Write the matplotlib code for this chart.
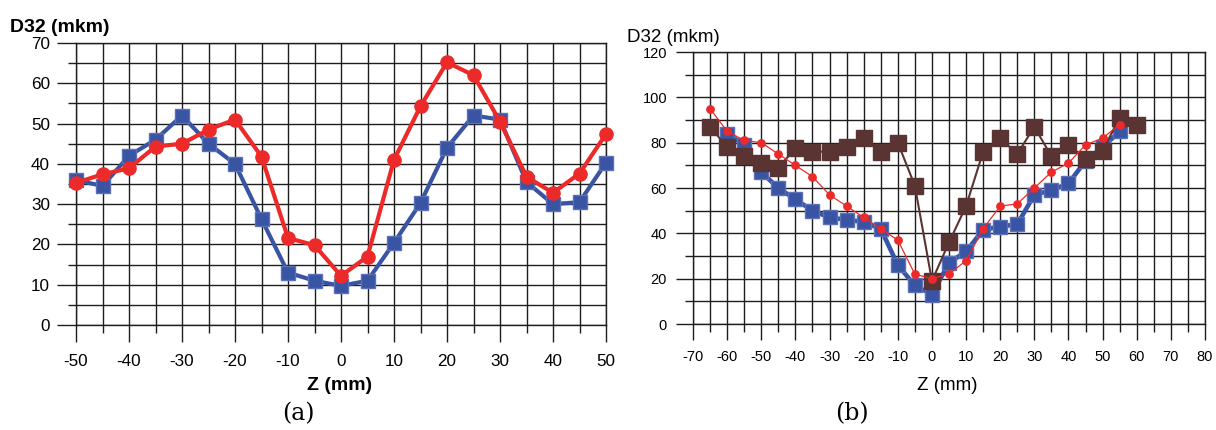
import matplotlib
matplotlib.use('Agg')
import matplotlib.pyplot as plt
from matplotlib.ticker import MultipleLocator

plt.rcParams['font.family'] = ['Liberation Sans', 'DejaVu Sans']
plt.rcParams['axes.unicode_minus'] = False  # plain hyphen like the original

# ---- data panel (a) ----
z_a = [-50, -45, -40, -35, -30, -25, -20, -15, -10, -5, 0,
       5, 10, 15, 20, 25, 30, 35, 40, 45, 50]
blue_a = [36, 34.5, 42, 46, 52, 45, 40, 26.3, 13, 11, 9.7,
          11, 20.4, 30.3, 44, 52, 51, 35.5, 30, 30.5, 40.3]
red_a = [35.3, 37.4, 38.9, 44.3, 45, 48.5, 51, 41.8, 21.6, 19.8, 12.2,
         17, 41, 54.3, 65.2, 62, 50.5, 36.8, 32.8, 37.6, 47.4]

# ---- data panel (b) ----
z_b_red = [-65, -60, -55, -50, -45, -40, -35, -30, -25, -20, -15, -10, -5,
           0, 5, 10, 15, 20, 25, 30, 35, 40, 45, 50, 55]
red_b = [95, 85, 81, 80, 75, 70, 65, 57, 52, 47, 42, 37, 22,
         20, 22, 28, 42, 52, 53, 60, 67, 71, 79, 82, 88]
z_b_blue = [-60, -55, -50, -45, -40, -35, -30, -25, -20, -15, -10, -5,
            0, 5, 10, 15, 20, 25, 30, 35, 40, 45, 50, 55]
blue_b = [84, 79, 67, 60, 55, 50, 47, 46, 45, 42, 26, 17,
          13, 27, 32, 41.5, 43, 44, 57, 59, 62, 72, 78, 85]
z_b_brown = [-65, -60, -55, -50, -45, -40, -35, -30, -25, -20, -15, -10, -5,
             0, 5, 10, 15, 20, 25, 30, 35, 40, 45, 50, 55, 60]
brown_b = [87, 78, 74, 71, 69, 77.5, 76, 76, 78, 82, 76, 80, 61,
           19, 36, 52, 76, 82, 75, 87, 74, 79, 73, 76.5, 91, 88]

BLUE = '#3a54a4'
RED = '#ec2a2a'
BROWN = '#5a3432'
GRID = '#1e1e1e'

W, H = 1216, 430


def setup_axes(ax, xlim, ylim, xmaj, ymaj, xmin, ymin, fs, xlen, ylen, xpad, ypad):
    """grid like the excel chart: ticks are just the grid lines going out"""
    ax.set_xlim(*xlim)
    ax.set_ylim(*ylim)
    ax.xaxis.set_major_locator(MultipleLocator(xmaj))
    ax.xaxis.set_minor_locator(MultipleLocator(xmin))
    ax.yaxis.set_major_locator(MultipleLocator(ymaj))
    ax.yaxis.set_minor_locator(MultipleLocator(ymin))
    ax.grid(True, which='both', color=GRID, lw=1.0)
    ax.set_axisbelow(True)
    for s in ax.spines.values():
        s.set_color(GRID)
        s.set_linewidth(1.0)
    ax.tick_params(axis='x', which='major', direction='out', length=xlen[0],
                   width=1.0, color=GRID, labelsize=fs, pad=xpad)
    ax.tick_params(axis='x', which='minor', direction='out', length=xlen[1],
                   width=1.0, color=GRID)
    ax.tick_params(axis='y', which='major', direction='out', length=ylen[0],
                   width=1.0, color=GRID, labelsize=fs, pad=ypad)
    ax.tick_params(axis='y', which='minor', direction='out', length=ylen[1],
                   width=1.0, color=GRID)


fig = plt.figure(figsize=(W / 100, H / 100), dpi=100)

# panel (a)
ax1 = fig.add_axes([76 / W, 1 - 325 / H, (606 - 76) / W, (325 - 43) / H])
setup_axes(ax1, (-50, 50), (0, 70), 10, 10, 5, 5, 12.3,
           (12.2, 5.8), (13.7, 5.8), 9, 5)
ax1.plot(z_a, blue_a, '-s', color=BLUE, lw=3, ms=10, mec='#5a70b8',
         clip_on=False, zorder=3)
ax1.plot(z_a, red_a, '-o', color=RED, lw=3, ms=9.5, clip_on=False, zorder=4)

fig.text(10 / W, 1 - 27 / H, 'D32 (mkm)', fontsize=14, fontweight='bold',
         ha='left', va='center')
fig.text(340 / W, 1 - 386 / H, 'Z (mm)', fontsize=14, fontweight='bold',
         ha='center', va='center')
fig.text(298 / W, 1 - 414 / H, '(a)', fontsize=17, family='DejaVu Serif',
         ha='center', va='center')

# panel (b)
ax2 = fig.add_axes([693 / W, 1 - 324 / H, (1205 - 693) / W, (324 - 52) / H])
setup_axes(ax2, (-70, 80), (0, 120), 10, 20, 5, 10, 10.5,
           (11.5, 5.8), (12.2, 5.8), 7, 6.5)
ax2.plot(z_b_blue, blue_b, '-s', color=BLUE, lw=3.3, ms=9.5, mec='#5a70b8',
         zorder=3)
ax2.plot(z_b_brown, brown_b, '-s', color=BROWN, lw=1.5, ms=11, zorder=4)
ax2.plot(z_b_red, red_b, '-o', color=RED, lw=0.9, ms=5.3, zorder=5)

fig.text(627 / W, 1 - 37 / H, 'D32 (mkm)', fontsize=13.5, ha='left', va='center')
fig.text(947 / W, 1 - 385 / H, 'Z (mm)', fontsize=13.5, ha='center', va='center')
fig.text(852 / W, 1 - 414 / H, '(b)', fontsize=17, family='DejaVu Serif',
         ha='center', va='center')

fig.savefig('out.png', dpi=100)
